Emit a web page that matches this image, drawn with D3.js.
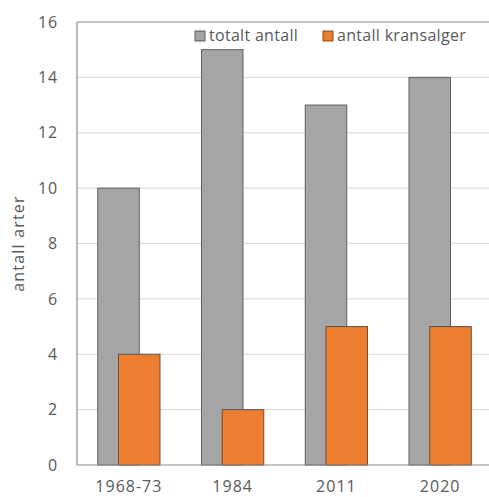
<!DOCTYPE html>
<html lang="no">
<head>
<meta charset="UTF-8">
<title>antall arter</title>
<script src="https://d3js.org/d3.v7.min.js"></script>
<style>
  html, body { margin: 0; padding: 0; background: #fff; overflow: hidden; }
  text { font-family: "Open Sans", sans-serif; fill: #595959; }
</style>
</head>
<body>
<div id="chart"></div>
<script>
// data
const periods = ['1968-73', '1984', '2011', '2020'];
const totaltAntall = [10, 15, 13, 14];
const antallKransalger = [4, 2, 5, 5];
const yTicks = [0, 2, 4, 6, 8, 10, 12, 14, 16];
const seriesNames = ['totalt antall', 'antall kransalger'];
const seriesColors = ['#a5a5a5', '#ed7d31'];
const seriesStrokes = ['#5f5f5f', '#7a4a2a'];

const width = 489, height = 497;
const margin = { top: 22, right: -3, bottom: 32, left: 77 };

const svg = d3.select('#chart').append('svg')
    .attr('width', width)
    .attr('height', height)
    .style('display', 'block');

const x = d3.scaleBand()
    .domain(periods)
    .range([margin.left, width - margin.right])
    .padding(0);

const y = d3.scaleLinear()
    .domain([0, 16])
    .range([height - margin.bottom, margin.top]);

// gridlines
svg.append('g')
    .selectAll('line')
    .data(yTicks.filter(d => d > 0 && d < 16))
    .join('line')
    .attr('x1', margin.left)
    .attr('x2', width)
    .attr('y1', d => y(d))
    .attr('y2', d => y(d))
    .attr('stroke', '#d9d9d9')
    .attr('stroke-width', 1);

// bars: grey behind, orange overlapping half way
const groupW = x.bandwidth() * 0.6;
const barW = groupW * 2 / 3;
const offset = groupW / 3;
const series = [totaltAntall, antallKransalger];

series.forEach((vals, s) => {
    svg.append('g')
        .selectAll('rect')
        .data(vals)
        .join('rect')
        .attr('x', (d, i) => x(periods[i]) + x.bandwidth() / 2 - groupW / 2 + s * offset)
        .attr('y', d => y(d))
        .attr('width', barW)
        .attr('height', d => y(0) - y(d))
        .attr('fill', seriesColors[s])
        .attr('stroke', seriesStrokes[s])
        .attr('stroke-width', 1);
});

// plot frame (left, top, bottom; right side runs off the picture)
const frame = svg.append('g').attr('stroke', '#8c8c8c').attr('stroke-width', 1.2);
frame.append('line').attr('x1', margin.left).attr('x2', margin.left).attr('y1', margin.top).attr('y2', y(0));
frame.append('line').attr('x1', margin.left).attr('x2', width).attr('y1', margin.top).attr('y2', margin.top);
frame.append('line').attr('x1', margin.left).attr('x2', width).attr('y1', y(0)).attr('y2', y(0));

// y axis labels
const yAxis = svg.append('g')
    .attr('transform', `translate(${margin.left}, 0)`)
    .call(d3.axisLeft(y).tickValues(yTicks).tickSize(0).tickPadding(19));
yAxis.select('.domain').remove();
yAxis.selectAll('text')
    .style('font-size', '16px')
    .style('letter-spacing', '0.8px')
    .style('font-family', '"Open Sans", sans-serif')
    .attr('fill', '#595959');

// x axis labels
const xAxis = svg.append('g')
    .attr('transform', `translate(0, ${y(0)})`)
    .call(d3.axisBottom(x).tickSize(0).tickPadding(16));
xAxis.select('.domain').remove();
xAxis.selectAll('text')
    .style('font-size', '16px')
    .style('letter-spacing', '1px')
    .style('font-family', '"Open Sans", sans-serif')
    .attr('fill', '#595959');

// y axis title
svg.append('text')
    .attr('transform', `translate(24, ${(margin.top + y(0)) / 2}) rotate(-90)`)
    .attr('text-anchor', 'middle')
    .style('font-size', '16px')
    .style('letter-spacing', '1.2px')
    .text('antall arter');

// legend
const legendX = [195, 323];
const legend = svg.append('g');
seriesNames.forEach((name, s) => {
    legend.append('rect')
        .attr('x', legendX[s])
        .attr('y', 31)
        .attr('width', 10)
        .attr('height', 10)
        .attr('fill', seriesColors[s])
        .attr('stroke', seriesStrokes[s])
        .attr('stroke-width', 1);
    legend.append('text')
        .attr('x', legendX[s] + 14)
        .attr('y', 41)
        .style('font-size', '16px')
        .style('letter-spacing', '0.3px')
        .text(name);
});
</script>
</body>
</html>
